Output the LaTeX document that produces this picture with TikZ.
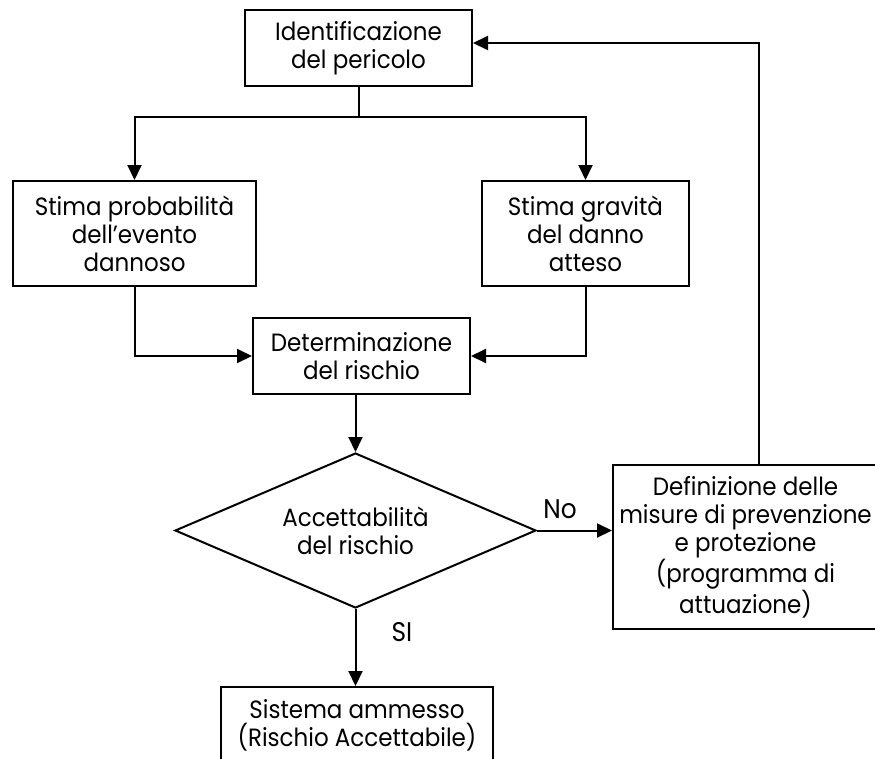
\documentclass[tikz,border=0pt]{standalone}
\usepackage{fontspec}
\setmainfont[FakeStretch=0.92]{Poppins}
\usetikzlibrary{shapes.geometric,arrows.meta}
\begin{document}
\begin{tikzpicture}[x=1pt,y=-1pt,
  txt/.style={font=\fontsize{25}{28}\selectfont},
  box/.style={txt,draw,line width=2pt,inner sep=0pt,align=center},
  conn/.style={line width=2pt},
  arr/.style={conn,-{Triangle[length=15pt,width=14pt]}},
  lbl/.style={font=\fontsize{27}{30}\selectfont,inner sep=0pt}]
\useasboundingbox (0,0) rectangle (875,758);
\node[box,minimum width=227pt,minimum height=76pt] (ident) at (358.5,48) {Identificazione\\del pericolo};
\node[box,minimum width=243pt,minimum height=105pt] (prob) at (134.5,233.5) {Stima probabilità\\dell’evento\\dannoso};
\node[box,minimum width=207pt,minimum height=105pt] (grav) at (585.5,233.5) {Stima gravità\\del danno\\atteso};
\node[box,minimum width=217pt,minimum height=76pt] (det) at (361.5,356) {Determinazione\\del rischio};
\node[box,diamond,shape aspect=2.33,minimum width=361pt,minimum height=155pt] (dia) at (355.5,530.5) {Accettabilità\\del rischio};
\node[box,minimum width=265pt,minimum height=164pt] (def) at (745.5,547) {Definizione delle\\misure di prevenzione\\e protezione\\(programma di\\attuazione)};
\node[box,minimum width=272pt,minimum height=76pt] (sist) at (357,725) {Sistema ammesso\\(Rischio Accettabile)};
\node[lbl] (no) at (560,509) {No};
\node[lbl] (si) at (402,632) {SI};
\coordinate (br) at (358.5,117);
\coordinate (fb) at (759,43);
\draw[conn] (ident.south) -- (br);
\draw[arr] (br) -| (prob.north);
\draw[arr] (br) -| (grav.north);
\draw[arr] (prob.south) |- (det.west);
\draw[arr] (grav.south) |- (det.east);
\draw[arr] (det.south -| dia.north) -- (dia.north);
\draw[arr] (dia.east) -- (dia.east -| def.west);
\draw[arr] (dia.south) -- (dia.south |- sist.north);
\draw[arr] (def.north -| fb) -- (fb) -- (fb -| ident.east);
\end{tikzpicture}
\end{document}
